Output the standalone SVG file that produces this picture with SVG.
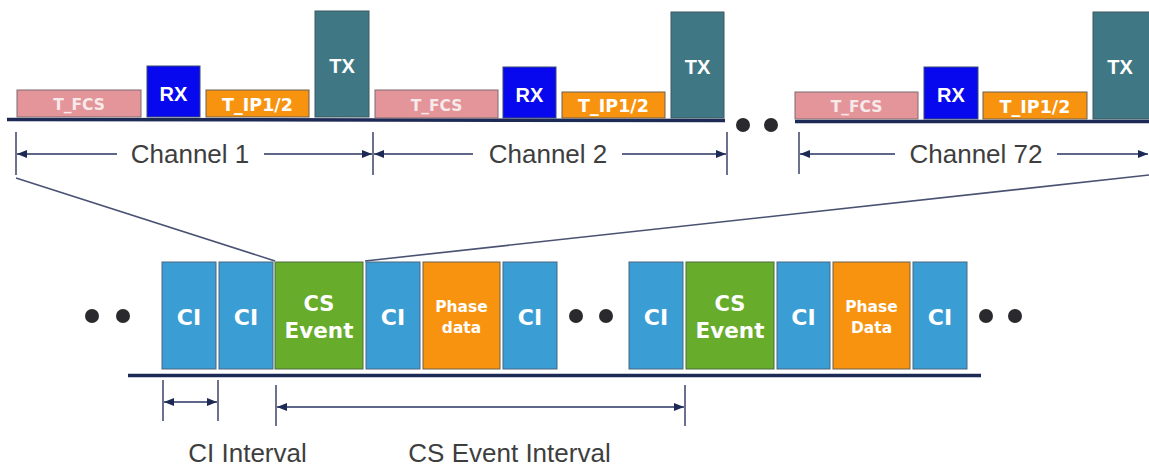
<svg xmlns="http://www.w3.org/2000/svg" width="1149" height="466" viewBox="0 0 1149 466">
<style>
.fcs{fill:#e3959a;stroke:#7d6b70;stroke-width:1}
.rx{fill:#0808ee;stroke:#3a4a70;stroke-width:1}
.tip{fill:#f7930f;stroke:#6d6050;stroke-width:1}
.tx{fill:#3f7884;stroke:#3d5860;stroke-width:1}
.ci{fill:#3a9dd4;stroke:#4a6680;stroke-width:1}
.cs{fill:#68ac2c;stroke:#4d6a40;stroke-width:1}
.ph{fill:#f8930f;stroke:#6a6050;stroke-width:1}
.bt{fill:#ffffff;font-family:"DejaVu Sans",sans-serif;font-weight:bold;text-anchor:middle}
.bt2{fill:#ffffff;font-family:"Liberation Sans",Arial,sans-serif;font-weight:bold;text-anchor:middle}
.fct{fill:#f8eaea}
.lbl{fill:#3e3e3e;font-family:"Liberation Sans",Arial,sans-serif;font-size:26px;text-anchor:middle}
.base{stroke:#1c2a55;stroke-width:3.5;fill:none}
.dim{stroke:#2a3560;stroke-width:1.4;fill:none}
.tick{stroke:#3a4268;stroke-width:1.5;fill:none}
.zoom{stroke:#4a5272;stroke-width:1.6;fill:none}
.dot{fill:#2a2a2e}
</style>
<defs>
<marker id="ah" viewBox="0 0 10 8" refX="10" refY="4" markerWidth="10" markerHeight="8" markerUnits="userSpaceOnUse" orient="auto-start-reverse">
<path d="M0,0 L10,4 L0,8 z" fill="#1c2a55"/>
</marker>
</defs>

<!-- baselines -->
<line class="base" x1="7" y1="119.5" x2="725" y2="120.5"/>
<line class="base" x1="795" y1="121.5" x2="1149" y2="121.5"/>
<line class="base" x1="128" y1="375.5" x2="981" y2="375.5"/>

<!-- connectors -->
<g id="connectors">
<line class="zoom" x1="16" y1="178" x2="275" y2="261"/>
<line class="zoom" x1="365" y1="261" x2="1149" y2="175"/>
<!-- channel dimensions -->
<line class="tick" x1="16" y1="132" x2="16" y2="175"/>
<line class="tick" x1="373" y1="132" x2="373" y2="175"/>
<line class="tick" x1="727" y1="132" x2="727" y2="175"/>
<line class="tick" x1="799" y1="132" x2="799" y2="174"/>
<line class="dim" x1="117" y1="154" x2="17" y2="154" marker-end="url(#ah)"/>
<line class="dim" x1="264" y1="154" x2="372" y2="154" marker-end="url(#ah)"/>
<line class="dim" x1="473" y1="154" x2="374" y2="154" marker-end="url(#ah)"/>
<line class="dim" x1="622" y1="154" x2="726" y2="154" marker-end="url(#ah)"/>
<line class="dim" x1="895" y1="154" x2="800" y2="154" marker-end="url(#ah)"/>
<line class="dim" x1="1057" y1="154" x2="1148" y2="154" marker-end="url(#ah)"/>
<!-- interval dimensions -->
<line class="tick" x1="163" y1="380" x2="163" y2="421"/>
<line class="tick" x1="218" y1="380" x2="218" y2="421"/>
<line class="dim" x1="164" y1="402" x2="217" y2="402" marker-start="url(#ah)" marker-end="url(#ah)"/>
<line class="tick" x1="276" y1="385" x2="276" y2="426"/>
<line class="tick" x1="685" y1="385" x2="685" y2="426"/>
<line class="dim" x1="277" y1="407" x2="684" y2="407" marker-start="url(#ah)" marker-end="url(#ah)"/>
</g>

<!-- Channel 1 -->
<g id="ch1-tfcs"><rect class="fcs" x="17" y="90" width="124" height="27"/><text class="bt fct" x="79" y="110" font-size="15.5">T_FCS</text></g>
<g id="ch1-rx"><rect class="rx" x="147" y="66" width="53" height="51"/><text class="bt2" x="173.5" y="101" font-size="20">RX</text></g>
<g id="ch1-tip"><rect class="tip" x="206" y="90" width="103" height="27"/><text class="bt" x="257.5" y="111" font-size="17.5">T_IP1/2</text></g>
<g id="ch1-tx"><rect class="tx" x="315" y="11" width="54" height="106"/><text class="bt2" x="342" y="73" font-size="20">TX</text></g>

<!-- Channel 2 -->
<g id="ch2-tfcs"><rect class="fcs" x="375" y="90" width="123" height="28"/><text class="bt fct" x="436.5" y="111" font-size="15.5">T_FCS</text></g>
<g id="ch2-rx"><rect class="rx" x="503" y="67" width="53" height="51"/><text class="bt2" x="529.5" y="102" font-size="20">RX</text></g>
<g id="ch2-tip"><rect class="tip" x="562" y="92" width="103" height="26"/><text class="bt" x="613.5" y="112" font-size="17.5">T_IP1/2</text></g>
<g id="ch2-tx"><rect class="tx" x="671" y="12" width="53" height="106"/><text class="bt2" x="697.5" y="74" font-size="20">TX</text></g>

<!-- Channel 72 -->
<g id="ch72-tfcs"><rect class="fcs" x="795" y="92" width="123" height="27"/><text class="bt fct" x="856.5" y="112" font-size="15.5">T_FCS</text></g>
<g id="ch72-rx"><rect class="rx" x="924" y="67" width="54" height="52"/><text class="bt2" x="951" y="102" font-size="20">RX</text></g>
<g id="ch72-tip"><rect class="tip" x="983" y="92" width="104" height="27"/><text class="bt" x="1035" y="113" font-size="17.5">T_IP1/2</text></g>
<g id="ch72-tx"><rect class="tx" x="1093" y="12" width="62" height="107"/><text class="bt2" x="1120" y="74" font-size="20">TX</text></g>

<!-- top dots -->
<g id="dots-top"><circle class="dot" cx="743" cy="125" r="7"/><circle class="dot" cx="771" cy="125" r="7"/></g>

<!-- channel labels -->
<g id="lbl-ch1"><text class="lbl" x="190" y="163">Channel 1</text></g>
<g id="lbl-ch2"><text class="lbl" x="548" y="163">Channel 2</text></g>
<g id="lbl-ch72"><text class="lbl" x="976" y="163">Channel 72</text></g>

<!-- lower sequence -->
<g id="dots-l1"><circle class="dot" cx="92" cy="316" r="7"/><circle class="dot" cx="123" cy="316" r="7"/></g>
<g id="ci1"><rect class="ci" x="162" y="262" width="54" height="107"/><text class="bt" x="189" y="325" font-size="22">CI</text></g>
<g id="ci2"><rect class="ci" x="219" y="262" width="54" height="107"/><text class="bt" x="246" y="325" font-size="22">CI</text></g>
<g id="cs1"><rect class="cs" x="275" y="262" width="88" height="107"/><text class="bt" x="319" y="311" font-size="21">CS</text><text class="bt" x="319" y="338" font-size="21.5">Event</text></g>
<g id="ci3"><rect class="ci" x="366" y="262" width="54" height="107"/><text class="bt" x="393" y="325" font-size="22">CI</text></g>
<g id="ph1"><rect class="ph" x="423" y="262" width="77" height="107"/><text class="bt" x="461.5" y="312" font-size="15.5">Phase</text><text class="bt" x="461.5" y="333" font-size="15.5">data</text></g>
<g id="ci4"><rect class="ci" x="503" y="262" width="54" height="107"/><text class="bt" x="530" y="325" font-size="22">CI</text></g>
<g id="dots-l2"><circle class="dot" cx="576" cy="316" r="7"/><circle class="dot" cx="606" cy="316" r="7"/></g>
<g id="ci5"><rect class="ci" x="629" y="262" width="54" height="107"/><text class="bt" x="656" y="325" font-size="22">CI</text></g>
<g id="cs2"><rect class="cs" x="686" y="262" width="88" height="107"/><text class="bt" x="730" y="311" font-size="21">CS</text><text class="bt" x="730" y="338" font-size="21.5">Event</text></g>
<g id="ci6"><rect class="ci" x="777" y="262" width="53" height="107"/><text class="bt" x="803.5" y="325" font-size="22">CI</text></g>
<g id="ph2"><rect class="ph" x="833" y="262" width="77" height="107"/><text class="bt" x="871.5" y="312" font-size="15.5">Phase</text><text class="bt" x="871.5" y="333" font-size="15.5">Data</text></g>
<g id="ci7"><rect class="ci" x="913" y="262" width="54" height="107"/><text class="bt" x="940" y="325" font-size="22">CI</text></g>
<g id="dots-l3"><circle class="dot" cx="986" cy="316" r="7"/><circle class="dot" cx="1015" cy="316" r="7"/></g>

<!-- interval labels -->
<g id="lbl-ci"><text class="lbl" x="247.5" y="462">CI Interval</text></g>
<g id="lbl-cs"><text class="lbl" x="509.5" y="462">CS Event Interval</text></g>
</svg>
